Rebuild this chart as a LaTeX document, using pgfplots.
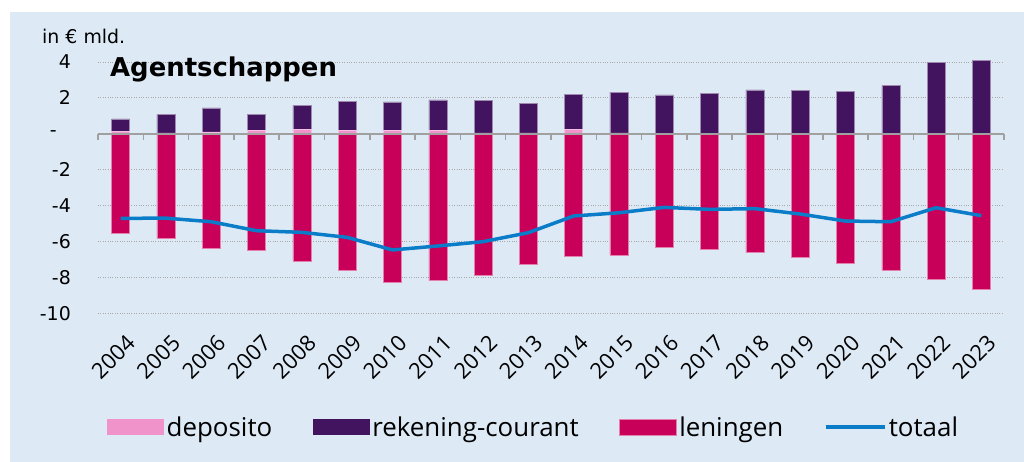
\documentclass[border=0pt]{standalone}
\usepackage{fontspec}
\setmainfont{DejaVu Sans}
\newfontfamily\os{Open Sans}
\usepackage{pgfplots}
\pgfplotsset{compat=1.18}
\definecolor{bgcol}{HTML}{DDEAF6}
\definecolor{depcol}{HTML}{F093CB}
\definecolor{rekcol}{HTML}{42145F}
\definecolor{lencol}{HTML}{C8005A}
\definecolor{totcol}{HTML}{0A7CC8}
\definecolor{zerocol}{HTML}{A0A0A0}
\definecolor{gridcol}{HTML}{A8A8A8}
\pgfplotsset{
  common/.style={
    at={(98bp,148.7bp)}, anchor=south west,
    width=906bp, height=251.3bp, scale only axis,
    xmin=-0.5, xmax=19.5, ymin=-10, ymax=4,
    clip=false, bar width=18bp,
    major tick length=0pt,
  },
  boxlegend/.style={legend image code/.code={\fill[##1] (0bp,-8bp) rectangle (57bp,8bp);}},
  linelegend/.style={legend image code/.code={\draw[##1] (0bp,0bp) -- (59bp,0bp);}},
}
\begin{document}
\begin{tikzpicture}[x=1bp,y=1bp]
\fill[white] (0,0) rectangle (1024,462);
\fill[bgcol] (10,0) rectangle (1024,450);
\node[anchor=base west, inner sep=0pt, font=\fontsize{19}{22}\selectfont] at (42,418) {in € mld.};
% axis 1: grid, tick labels, positive stacked bars
\begin{axis}[
  common,
  axis line style={draw=none},
  ybar stacked,
  ytick={-10,-8,-6,-4,-2,0,2,4},
  yticklabels={-10,-8,-6,-4,-2,{-\kern14bp},2,4},
  xtick={0,...,19},
  xticklabels={2004,2005,2006,2007,2008,2009,2010,2011,2012,2013,2014,2015,2016,2017,2018,2019,2020,2021,2022,2023},
  /pgf/number format/assume math mode=true,
  ymajorgrids,
  grid style={gridcol, dotted, line width=0.8bp},
  tick style={draw=none},
  yticklabel style={anchor=east, inner sep=0pt, xshift=-27bp, font=\fontsize{19}{22}\selectfont},
  xticklabel style={xshift=4.5bp, yshift=-20bp, rotate=45, anchor=north east, inner sep=0pt, font=\os\fontsize{22}{26}\selectfont},
]
\addplot[fill=depcol, draw=depcol!60!white, line width=0.5bp] coordinates {
(0,0.15) (1,0.05) (2,0.10) (3,0.20) (4,0.26) (5,0.20) (6,0.17) (7,0.20) (8,0.05) (9,0.05)
(10,0.25) (11,0.05) (12,0.02) (13,0) (14,0) (15,0) (16,0) (17,0) (18,0) (19,0)};
\addplot[fill=rekcol, draw=rekcol!50!white, line width=0.5bp] coordinates {
(0,0.68) (1,1.03) (2,1.35) (3,0.88) (4,1.32) (5,1.60) (6,1.61) (7,1.69) (8,1.81) (9,1.64)
(10,1.94) (11,2.27) (12,2.15) (13,2.25) (14,2.45) (15,2.41) (16,2.36) (17,2.69) (18,3.99) (19,4.10)};
\end{axis}
% axis 2: negative bars, zero line, total line, legend
\begin{axis}[
  common,
  axis lines=none,
  ybar, bar shift=0pt,
  xtick=\empty, ytick=\empty,
  legend columns=4,
  legend style={at={(0.0099,-0.4525)}, anchor=west, draw=none, fill=none, inner sep=0pt,
    font=\os\fontsize{26}{30}\selectfont,
    nodes={inner xsep=2.5bp, inner ysep=0pt},
    /tikz/every even column/.append style={column sep=38bp}},
  boxlegend,
]
\addlegendimage{fill=depcol, draw=none}
\addlegendentry{deposito}
\addlegendimage{fill=rekcol, draw=none}
\addlegendentry{rekening-courant}
\addplot[fill=lencol, draw=lencol!50!white, line width=0.5bp] coordinates {
(0,-5.55) (1,-5.80) (2,-6.36) (3,-6.49) (4,-7.08) (5,-7.60) (6,-8.27) (7,-8.18) (8,-7.90) (9,-7.25)
(10,-6.82) (11,-6.75) (12,-6.32) (13,-6.43) (14,-6.62) (15,-6.86) (16,-7.23) (17,-7.60) (18,-8.10) (19,-8.66)};
\addlegendentry{leningen}
\draw[zerocol, line width=1.5bp] (axis cs:-0.5,0) -- (axis cs:19.5,0);
\pgfplotsinvokeforeach{-0.5,0.5,...,19.5}{\draw[zerocol, line width=1.5bp] (axis cs:#1,0) -- ([yshift=-6bp]axis cs:#1,0);}
\addplot[sharp plot, no marks, totcol, line width=3.5bp, linelegend] coordinates {
(0,-4.71) (1,-4.70) (2,-4.90) (3,-5.40) (4,-5.49) (5,-5.77) (6,-6.47) (7,-6.25) (8,-6.01) (9,-5.51)
(10,-4.58) (11,-4.40) (12,-4.10) (13,-4.21) (14,-4.17) (15,-4.47) (16,-4.86) (17,-4.90) (18,-4.12) (19,-4.56)};
\addlegendentry{totaal}
\end{axis}
\node[anchor=base west, inner sep=0pt, font=\bfseries\fontsize{26}{30}\selectfont] at (110,385) {Agentschappen};
\end{tikzpicture}
\end{document}
